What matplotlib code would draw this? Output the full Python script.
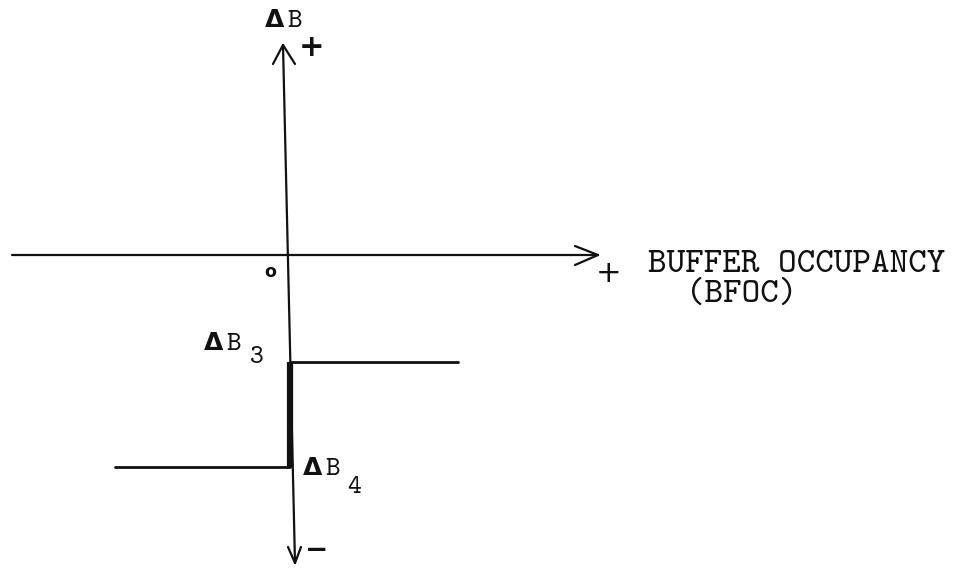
import matplotlib
matplotlib.use('Agg')
import matplotlib.pyplot as plt

# step response of delta-B against buffer occupancy (diagram units, origin at axis cross)
bfoc = [-1.73, 0.02, 0.02, 1.70]
delta_b = [-2.12, -2.12, -1.07, -1.07]
# the jump between the two levels is drawn heavy
jump_x = [0.02, 0.02]
jump_y = [-2.12, -1.07]

MONO = 'cmtt10'        # typewriter face shipped with matplotlib
SANS = 'DejaVu Sans'
INK = '#111111'

fig = plt.figure(figsize=(9.66, 5.71), dpi=100)
ax = fig.add_axes([0, 0, 1, 1])
ax.set_xlim(-2.88, 6.78)
ax.set_ylim(-3.16, 2.55)
ax.axis('off')
fig.patch.set_facecolor('white')

# ── axes (hand drawn, vertical one slightly slanted) ─────────────────────────
ax.plot([-2.76, 3.10], [0.0, 0.0], color=INK, lw=1.6, solid_capstyle='round')
ax.plot([3.10, 2.87], [0.0, 0.09], color=INK, lw=1.6, solid_capstyle='round')
ax.plot([3.10, 2.87], [0.0, -0.10], color=INK, lw=1.6, solid_capstyle='round')

ax.plot([-0.05, 0.07], [2.10, -3.08], color=INK, lw=1.6, solid_capstyle='round')
ax.plot([-0.05, -0.15], [2.10, 1.91], color=INK, lw=1.6, solid_capstyle='round')
ax.plot([-0.05, 0.07], [2.10, 1.91], color=INK, lw=1.6, solid_capstyle='round')
ax.plot([0.07, 0.00], [-3.08, -2.92], color=INK, lw=1.6, solid_capstyle='round')
ax.plot([0.07, 0.13], [-3.08, -2.92], color=INK, lw=1.6, solid_capstyle='round')

# ── step function ────────────────────────────────────────────────────────────
ax.plot(bfoc[:2], delta_b[:2], color=INK, lw=2.0, solid_capstyle='round')
ax.plot(bfoc[2:], delta_b[2:], color=INK, lw=2.0, solid_capstyle='round')
ax.plot(jump_x, jump_y, color=INK, lw=4.5, solid_capstyle='butt')

# ── signs ────────────────────────────────────────────────────────────────────
ax.text(0.24, 2.08, '+', ha='center', va='center', fontsize=22, fontweight='bold',
        family=SANS, color=INK)
ax.text(3.21, -0.19, '+', ha='center', va='center', fontsize=22, family=SANS, color=INK)
ax.text(0.29, -2.95, '\u2212', ha='center', va='center', fontsize=20, fontweight='bold',
        family=SANS, color=INK)
ax.text(-0.18, -0.22, 'o', ha='center', va='baseline', fontsize=12.5, fontweight='bold',
        family=SANS, color=INK)

# ── labels ───────────────────────────────────────────────────────────────────
def delta_label(x, y, sub='', dx=0.20, sx=0.43, sy=-0.13):
    ax.text(x, y, '\u0394', ha='center', va='baseline', fontsize=18,
            fontweight='bold', family=SANS, color=INK)
    ax.text(x + dx, y, 'B', ha='center', va='baseline', fontsize=20,
            family=MONO, color=INK)
    if sub:
        ax.text(x + sx, y + sy, sub, ha='center', va='baseline', fontsize=19,
                family=MONO, color=INK)


delta_label(-0.13, 2.28)
delta_label(-0.74, -0.95, '3')
delta_label(0.25, -2.20, '4', sx=0.41, sy=-0.18)

ax.text(3.60, -0.17, 'BUFFER OCCUPANCY', ha='left', va='baseline', fontsize=25.5,
        family=MONO, color=INK)
ax.text(3.98, -0.47, '(BFOC)', ha='left', va='baseline', fontsize=25.5,
        family=MONO, color=INK)

plt.savefig('out.png', dpi=100, facecolor='white')
